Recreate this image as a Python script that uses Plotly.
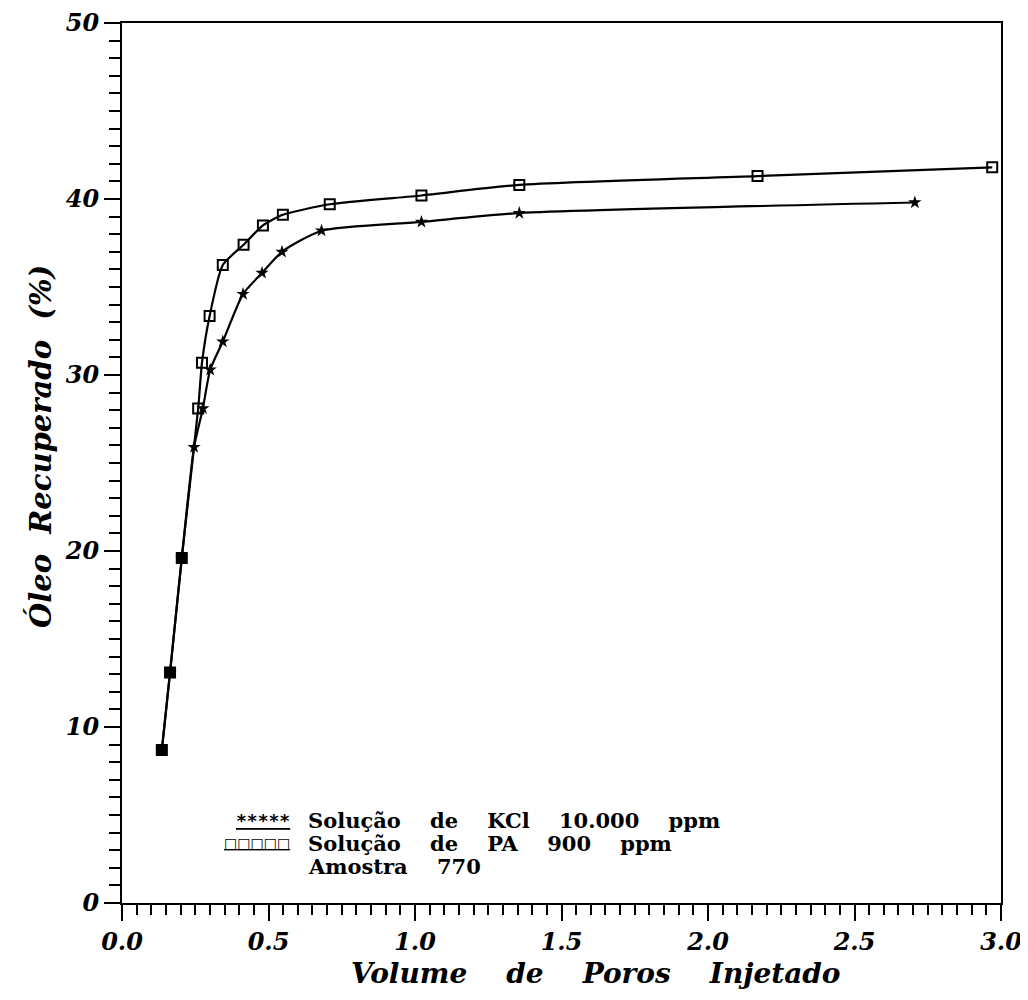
import plotly.graph_objects as go

# Data
kcl_x = [0.136, 0.164, 0.204, 0.246, 0.276, 0.301, 0.344, 0.413, 0.478, 0.546, 0.681, 1.022, 1.356, 2.706]
kcl_y = [8.7, 13.1, 19.6, 25.9, 28.1, 30.3, 31.9, 34.6, 35.8, 37.0, 38.2, 38.7, 39.2, 39.8]

pa_x = [0.136, 0.164, 0.204, 0.260, 0.273, 0.299, 0.344, 0.415, 0.481, 0.549, 0.709, 1.022, 1.356, 2.169, 2.97]
pa_y = [8.7, 13.1, 19.6, 28.1, 30.7, 33.35, 36.25, 37.4, 38.5, 39.1, 39.7, 40.2, 40.8, 41.3, 41.8]

x_ticks = [0.0, 0.5, 1.0, 1.5, 2.0, 2.5, 3.0]
y_ticks = [0, 10, 20, 30, 40, 50]

legend_lines = ["Solução de KCl 10.000 ppm", "Solução de PA 900 ppm", "Amostra 770"]
legend_samples = ["*****", "□□□□□"]

x_title = "Volume de Poros Injetado"
y_title = "Óleo Recuperado (%)"

SERIF = "DejaVu Serif"
tickfont = dict(family=SERIF, size=24, color="black", style="italic", weight="bold")


def widen(s, n):
    return s.replace(" ", "&nbsp;" * n)


fig = go.Figure()

fig.add_trace(go.Scatter(
    x=kcl_x, y=kcl_y, mode="lines+markers",
    line=dict(color="black", width=2.2, shape="spline", smoothing=0.6),
    marker=dict(symbol="star", size=10, color="black"),
    showlegend=False,
))

kcl_pairs = set(zip(kcl_x, kcl_y))
pa_symbols = ["square" if (xv, yv) in kcl_pairs else "square-open" for xv, yv in zip(pa_x, pa_y)]
fig.add_trace(go.Scatter(
    x=pa_x, y=pa_y, mode="lines+markers",
    line=dict(color="black", width=2.2, shape="spline", smoothing=0.6),
    marker=dict(symbol=pa_symbols, size=10, color="black", line=dict(color="black", width=2)),
    showlegend=False,
))

# page body has an 8px margin: figure is shifted by 8px right and down
fig.update_layout(
    width=1020, height=992,
    margin=dict(l=114, r=27, t=15, b=97),
    paper_bgcolor="white", plot_bgcolor="white",
    xaxis=dict(
        range=[0, 3.0], tickvals=x_ticks, tickformat=".1f", automargin=False,
        showline=True, linecolor="black", linewidth=2, mirror=True,
        ticks="outside", ticklen=16, tickwidth=2, tickcolor="black",
        minor=dict(dtick=0.05, ticks="outside", ticklen=10, tickwidth=2, tickcolor="black"),
        showgrid=False, zeroline=False, tickfont=tickfont,
    ),
    yaxis=dict(
        range=[0, 50], tickvals=y_ticks, automargin=False,
        showline=True, linecolor="black", linewidth=2, mirror=True,
        ticks="outside", ticklen=16, tickwidth=2, tickcolor="black",
        minor=dict(dtick=1, ticks="outside", ticklen=11, tickwidth=2, tickcolor="black"),
        showgrid=False, zeroline=False, tickfont=tickfont,
    ),
)

# screen coords of the plot area in the reference
W0, W1, H0, H1 = 122, 1001, 903, 23


def px(xp):
    return (xp - W0) / (W1 - W0)


def py(yp):
    return (H0 - yp) / (H0 - H1)


fig.add_annotation(text=widen(x_title, 4), xref="paper", yref="paper", x=px(596), y=py(974),
                   xanchor="center", yanchor="middle", showarrow=False,
                   font=dict(family=SERIF, size=28, color="black", style="italic", weight="bold"))
fig.add_annotation(text=widen(y_title, 2), xref="paper", yref="paper", x=px(40), y=py(447),
                   xanchor="center", yanchor="middle", textangle=-90, showarrow=False,
                   font=dict(family=SERIF, size=29, color="black", style="italic", weight="bold"))

legfont = dict(family=SERIF, size=21, color="black", weight="bold")
leg_y = [820, 843, 866]
for txt, yp in zip(legend_lines, leg_y):
    fig.add_annotation(text=widen(txt, 4), xref="paper", yref="paper",
                       x=px(306), y=py(yp),
                       xanchor="left", yanchor="middle", showarrow=False, font=legfont)
for txt, yp, fam, sz in zip(legend_samples, leg_y[:2], ["DejaVu Sans Mono", "DejaVu Sans"], [18, 14]):
    fig.add_annotation(text="<u>" + txt + "</u>", xref="paper", yref="paper",
                       x=px(292), y=py(yp),
                       xanchor="right", yanchor="middle", showarrow=False,
                       font=dict(family=fam, size=sz, color="black", weight="bold"))

fig.write_html("out.html")
